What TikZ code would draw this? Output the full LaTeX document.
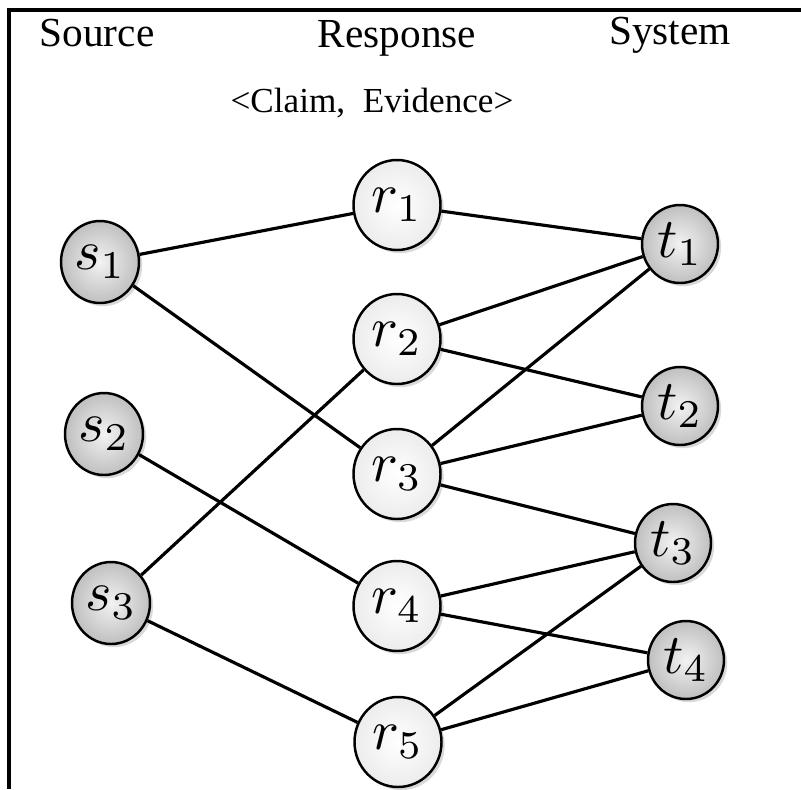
\documentclass[tikz,border=0pt]{standalone}
\usepackage{fontspec}
\setmainfont{Liberation Serif}
\usepackage{graphicx}
\usepackage{tikz}
\usetikzlibrary{shapes.geometric,shadows}

\newcommand{\nodelbl}[2]{\scalebox{3.2}{$#1_{#2}$}}

\begin{document}
\begin{tikzpicture}[
    greyball/.style={shape=ellipse, draw=black, line width=1.4pt, inner sep=0pt,
        shade, inner color=gray!10, outer color=gray!50,
        drop shadow={shadow xshift=1.8pt, shadow yshift=-1.8pt, opacity=0.3}},
    whiteball/.style={shape=ellipse, draw=black, line width=1.4pt, inner sep=0pt,
        shade, inner color=white, outer color=gray!15,
        minimum width=1.74cm, minimum height=1.8cm,
        drop shadow={shadow xshift=1.8pt, shadow yshift=-1.8pt, opacity=0.3}},
    srcnode/.style={greyball, minimum width=1.56cm, minimum height=1.64cm},
    sysnode/.style={greyball, minimum width=1.52cm, minimum height=1.56cm},
    link/.style={line width=1.8pt},
    heading/.style={font=\fontsize{23.5}{26}\selectfont}
  ]
    \useasboundingbox (0,0) rectangle (16.02,-15.78);
    \draw[line width=1.8pt] (0.18,-15.78) |- (16.02,-0.2);

    \node[heading] at (1.94,-0.66) (Hs) {Source};
    \node[heading] at (7.94,-0.76) (Hr) {Response};
    \node[heading] at (13.4,-0.7) (Ht) {System};
    \node[font=\fontsize{20}{24}\selectfont] at (7.44,-2.06) (Hc) {<Claim,~ Evidence>};

    \node[srcnode] at (2.00,-5.24) (S1) {\nodelbl{s}{1}};
    \node[srcnode] at (2.08,-8.68) (S2) {\nodelbl{s}{2}};
    \node[srcnode] at (2.22,-12.06) (S3) {\nodelbl{s}{3}};

    \node[whiteball] at (7.94,-4.10) (R1) {\nodelbl{r}{1}};
    \node[whiteball] at (7.94,-6.78) (R2) {\nodelbl{r}{2}};
    \node[whiteball] at (7.94,-9.48) (R3) {\nodelbl{r}{3}};
    \node[whiteball] at (7.94,-12.12) (R4) {\nodelbl{r}{4}};
    \node[whiteball] at (7.96,-14.84) (R5) {\nodelbl{r}{5}};

    \node[sysnode] at (13.6,-4.88) (T1) {\nodelbl{t}{1}};
    \node[sysnode] at (13.6,-8.12) (T2) {\nodelbl{t}{2}};
    \node[sysnode] at (13.46,-10.86) (T3) {\nodelbl{t}{3}};
    \node[sysnode] at (13.72,-13.2) (T4) {\nodelbl{t}{4}};

    \path [link] (S1) edge (R1);
    \path [link] (S1) edge (R3);
    \path [link] (S2) edge (R4);
    \path [link] (S3) edge (R2);
    \path [link] (S3) edge (R5);
    \path [link] (R1) edge (T1);
    \path [link] (R2) edge (T1);
    \path [link] (R2) edge (T2);
    \path [link] (R3) edge (T1);
    \path [link] (R3) edge (T2);
    \path [link] (R3) edge (T3);
    \path [link] (R4) edge (T3);
    \path [link] (R4) edge (T4);
    \path [link] (R5) edge (T3);
    \path [link] (R5) edge (T4);
\end{tikzpicture}
\end{document}
